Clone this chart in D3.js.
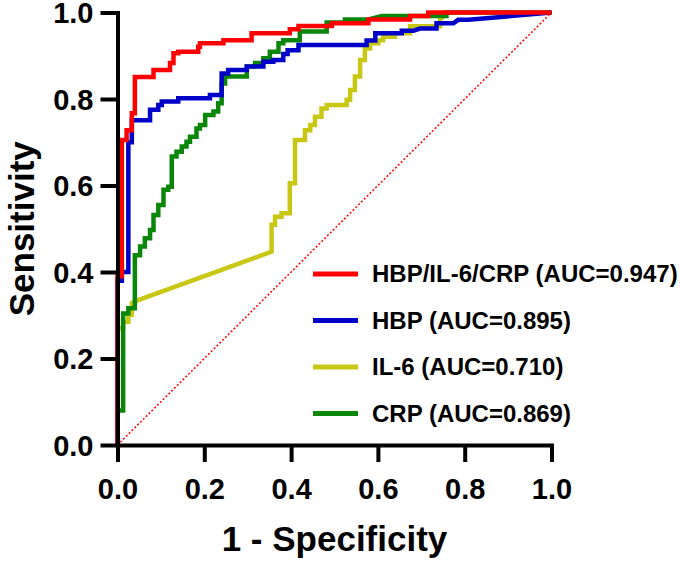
<!DOCTYPE html>
<html>
<head>
<meta charset="utf-8">
<script src="https://cdn.jsdelivr.net/npm/d3@7"></script>
<style>
  body { margin: 0; background: #fff; }
  text { font-family: "Liberation Sans", Arial, sans-serif; font-weight: bold; fill: #000; }
</style>
</head>
<body>
<script>
// ROC curves: [1 - specificity, sensitivity]
const comboRoc = [[0,0],[0,.39],[.01,.39],[.01,.705],[.021,.705],[.021,.728],[.033,.728],[.033,.767],[.04,.767],[.04,.851],
  [.083,.851],[.083,.867],[.121,.867],[.121,.883],[.129,.883],[.129,.906],[.14,.906],[.14,.909],[.186,.909],[.186,.921],
  [.19,.921],[.19,.929],[.244,.929],[.244,.936],[.309,.936],[.309,.952],[.397,.952],[.397,.961],[.417,.961],[.417,.969],
  [.494,.969],[.494,.975],[.578,.975],[.578,.984],[.674,.984],[.674,.992],[.716,.992],[.716,1],[1,1]];

const hbpRoc = [[0,0],[0,.38],[.01,.38],[.01,.40],[.025,.40],[.025,.70],[.033,.70],[.033,.751],[.075,.751],[.075,.775],
  [.094,.775],[.094,.786],[.102,.786],[.102,.794],[.14,.794],[.14,.802],[.213,.802],[.213,.809],[.24,.809],[.24,.859],
  [.255,.859],[.255,.867],[.298,.867],[.298,.875],[.336,.875],[.336,.886],[.359,.886],[.359,.890],[.382,.890],[.382,.904],
  [.392,.904],[.392,.913],[.417,.913],[.417,.925],[.574,.925],[.574,.935],[.594,.935],[.594,.952],[.655,.952],[.655,.958],
  [.682,.958],[.697,.963],[.735,.963],[.735,.975],[.774,.975],[.785,.983],[.808,.983],[1,1]];

const il6Roc = [[0,0],[0,.27],[.013,.27],[.013,.285],[.025,.285],[.025,.301],[.033,.301],[.033,.328],[.04,.332],[.355,.447],
  [.355,.509],[.363,.509],[.363,.528],[.378,.528],[.378,.536],[.397,.536],[.397,.605],[.409,.605],[.409,.705],[.432,.705],
  [.432,.728],[.444,.728],[.444,.74],[.455,.74],[.455,.759],[.47,.759],[.47,.778],[.482,.778],[.482,.786],[.528,.786],
  [.528,.798],[.536,.798],[.536,.821],[.547,.821],[.547,.852],[.559,.852],[.559,.89],[.57,.89],[.57,.917],[.582,.917],
  [.582,.929],[.601,.929],[.601,.936],[.612,.936],[.612,.944],[.639,.944],[.639,.952],[.674,.952],[.674,.968],[.743,.968],
  [.743,.983],[.755,.994],[.755,1],[1,1]];

const crpRoc = [[0,0],[0,.08],[.013,.08],[.013,.304],[.025,.304],[.025,.316],[.04,.316],[.04,.439],[.052,.439],[.052,.459],
  [.063,.459],[.063,.478],[.075,.478],[.075,.497],[.083,.497],[.083,.532],[.094,.532],[.094,.555],[.106,.555],[.106,.59],
  [.117,.59],[.117,.597],[.125,.597],[.125,.667],[.136,.667],[.136,.678],[.148,.678],[.148,.69],[.159,.69],[.159,.701],
  [.167,.701],[.167,.713],[.182,.713],[.182,.732],[.19,.732],[.19,.74],[.202,.74],[.202,.763],[.221,.763],[.221,.771],
  [.232,.771],[.232,.79],[.24,.79],[.24,.836],[.248,.836],[.248,.852],[.298,.852],[.298,.875],[.317,.875],[.317,.883],
  [.336,.883],[.336,.894],[.351,.894],[.351,.909],[.371,.909],[.371,.929],[.382,.929],[.382,.936],[.42,.936],[.42,.956],
  [.482,.956],[.482,.977],[.524,.977],[.524,.984],[.578,.984],[.609,.992],[.758,.992],[.758,1],[1,1]];

const seriesNames = ["HBP/IL-6/CRP (AUC=0.947)", "HBP (AUC=0.895)", "IL-6 (AUC=0.710)", "CRP (AUC=0.869)"];
const seriesColors = ["#ff0000", "#0000c8", "#c8c814", "#0a870a"];
const tickValues = [0, 0.2, 0.4, 0.6, 0.8, 1.0];

var width = 680, height = 563;

var svg = d3.select("body").append("svg")
    .attr("width", width)
    .attr("height", height);

svg.append("rect").attr("width", width).attr("height", height).attr("fill", "#fff");

var x = d3.scaleLinear().domain([0, 1]).range([117.5, 551.5]);
var y = d3.scaleLinear().domain([0, 1]).range([445, 12.5]);

// reference diagonal
svg.append("line")
    .attr("x1", x(0)).attr("y1", y(0))
    .attr("x2", x(1)).attr("y2", y(1))
    .attr("stroke", "#ff0000")
    .attr("stroke-width", 1.5)
    .attr("stroke-dasharray", "2,2");

var line = d3.line()
    .x(function(d) { return x(d[0]); })
    .y(function(d) { return y(d[1]); });

// drawn back to front, red combination curve on top
var curves = [
  {data: il6Roc, color: seriesColors[2]},
  {data: crpRoc, color: seriesColors[3]},
  {data: hbpRoc, color: seriesColors[1]},
  {data: comboRoc, color: seriesColors[0]}
];

svg.selectAll(".roc")
    .data(curves)
  .enter().append("path")
    .attr("class", "roc")
    .attr("d", function(d) { return line(d.data); })
    .attr("fill", "none")
    .attr("stroke", function(d) { return d.color; })
    .attr("stroke-width", 4.5)
    .attr("stroke-linejoin", "miter");

// axes
var xAxis = svg.append("g")
    .attr("transform", "translate(0," + y(0) + ")")
    .call(d3.axisBottom(x).tickValues(tickValues).tickFormat(d3.format(".1f")).tickSize(17).tickSizeOuter(0));

var yAxis = svg.append("g")
    .attr("transform", "translate(" + x(0) + ",0)")
    .call(d3.axisLeft(y).tickValues(tickValues).tickFormat(d3.format(".1f")).tickSize(17).tickSizeOuter(0));

[xAxis, yAxis].forEach(function(a) {
  a.select(".domain").attr("stroke", "#000").attr("stroke-width", 4).attr("stroke-linecap", "square");
  a.selectAll(".tick line").attr("stroke", "#000").attr("stroke-width", 4);
  a.selectAll(".tick text").attr("font-size", 29).attr("font-family", null);
});

xAxis.selectAll(".tick text").attr("y", 54).attr("dy", 0);
yAxis.selectAll(".tick text").attr("x", -24).attr("dy", "0.36em");

// axis titles
svg.append("text")
    .attr("x", (x(0) + x(1)) / 2)
    .attr("y", 551)
    .attr("text-anchor", "middle")
    .attr("font-size", 35)
    .text("1 - Specificity");

svg.append("text")
    .attr("transform", "translate(34," + (y(0) + y(1)) / 2 + ") rotate(-90)")
    .attr("text-anchor", "middle")
    .attr("font-size", 35)
    .text("Sensitivity");

// legend
var legend = svg.selectAll(".legend")
    .data(seriesNames)
  .enter().append("g")
    .attr("class", "legend")
    .attr("transform", function(d, i) { return "translate(313," + (274 + i * 46.5) + ")"; });

legend.append("line")
    .attr("x1", 0).attr("x2", 45)
    .attr("stroke", function(d, i) { return seriesColors[i]; })
    .attr("stroke-width", 5);

legend.append("text")
    .attr("x", 59)
    .attr("dy", "0.35em")
    .attr("font-size", 24)
    .text(function(d) { return d; });
</script>
</body>
</html>
